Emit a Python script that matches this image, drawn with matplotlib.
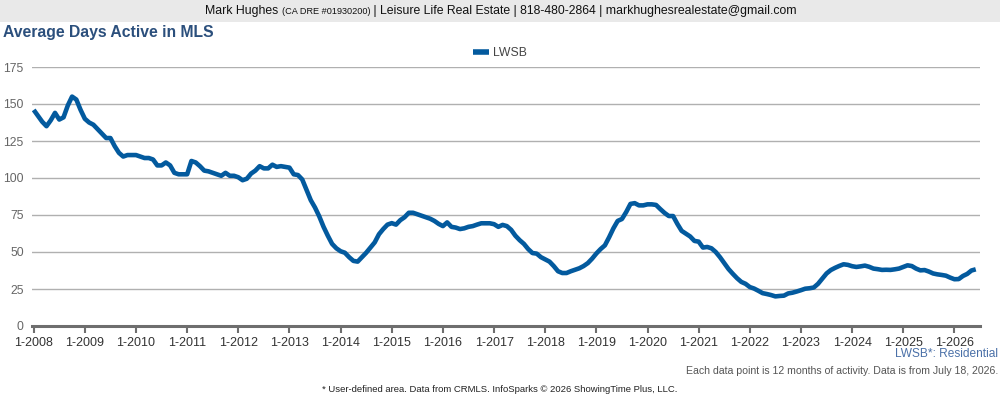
import matplotlib.pyplot as plt
import numpy as np

# Monthly values, Jan 2008 .. Jun 2026
days_active = [
    146, 142, 138, 135, 139, 144, 139.5, 141, 149, 155, 153, 146,
    140, 137.5, 136, 133, 130, 127, 127, 121.5, 117, 114.5, 115.5, 115.5,
    115.5, 114.5, 113.5, 113.5, 112.5, 108.5, 108.5, 110.5, 108.5, 103.5, 102.5, 102.5,
    102.5, 111.5, 110.5, 108, 105, 104.5, 103.5, 102.5, 101.5, 103.5, 101.5, 101.5,
    100.5, 98.5, 99.5, 103, 105, 108, 106.5, 106.5, 109, 107.5, 108, 107.5,
    107, 102.5, 102, 99, 92, 85, 80, 74, 67, 61, 55.5, 52.5,
    50.5, 49.5, 46.5, 44, 43.5, 46.5, 49.5, 53, 56.5, 62, 65.5, 68.5,
    69.5, 68.5, 71.5, 73.5, 76.5, 76.5, 75.5, 74.5, 73.5, 72.5, 71, 69,
    67.5, 70, 67, 66.5, 65.5, 66, 67, 67.5, 68.5, 69.4, 69.4, 69.4,
    68.8, 67, 68.3, 67.5, 65, 61, 58, 55.5, 52, 49.3, 48.9, 46.5,
    45, 43.5, 40.5, 37, 35.8, 35.8, 37, 38, 39, 40.5, 42.5, 45.5,
    49, 52, 54.5, 60, 66, 71, 72.3, 77, 82.5, 83, 81.5, 81.5,
    82.2, 82.2, 81.8, 79, 76.4, 74.3, 74.3, 69, 64.3, 62.4, 60.5, 57.5,
    57, 53, 53.4, 52.5, 50, 46.5, 42.5, 38.5, 35.3, 32.3, 29.8, 28.5,
    26.3, 25.3, 23.8, 22.2, 21.6, 20.9, 20, 20.3, 20.5, 22, 22.5, 23.3,
    24.2, 25.2, 25.5, 26, 28.5, 32, 35.5, 37.8, 39.3, 40.6, 41.7, 41.3,
    40.4, 39.9, 40.3, 40.8, 40, 38.8, 38.4, 37.9, 38, 37.9, 38.3, 38.8,
    39.9, 41, 40.5, 38.8, 37.6, 37.8, 36.8, 35.5, 34.9, 34.5, 34, 32.7,
    31.6, 31.7, 33.8, 35.2, 37.5, 38.3,
]
years = list(range(2008, 2027))
tick_labels = ["1-%d" % y for y in years]
y_ticks = [0, 25, 50, 75, 100, 125, 150, 175]

font = "Liberation Sans"
blue = "#035a9e"

fig = plt.figure(figsize=(10, 4), dpi=100)

# top banner
fig.patches.append(plt.Rectangle((0, 1 - 22 / 400), 1, 22 / 400, transform=fig.transFigure,
                                 facecolor="#e9e9e9", edgecolor="none", zorder=0))
t1 = fig.text(0.205, 1 - 11 / 400, "Mark Hughes ", ha="left", va="center", fontsize=8.8,
              family=font, color="#111111")
fig.canvas.draw()
bb = t1.get_window_extent()
t2 = fig.text(bb.x1 / 1000, 1 - 11.5 / 400, "(CA DRE #01930200)", ha="left", va="center",
              fontsize=6.6, family=font, color="#111111")
fig.canvas.draw()
bb = t2.get_window_extent()
fig.text(bb.x1 / 1000, 1 - 11 / 400,
         " | Leisure Life Real Estate | 818-480-2864 | markhughesrealestate@gmail.com",
         ha="left", va="center", fontsize=8.8, family=font, color="#111111")

fig.text(0.003, 1 - 33 / 400, "Average Days Active in MLS", ha="left", va="center",
         fontsize=11.3, fontweight="bold", family=font, color="#2b4f7c")

ax = fig.add_axes([0.032, 1 - 326 / 400, 0.948, (326 - 67) / 400])
x = np.arange(len(days_active))
ax.plot(x, days_active, color=blue, linewidth=3.3, solid_capstyle="butt", label="LWSB", zorder=3)

ax.set_ylim(0, 175)
ax.set_xlim(-0.4, 222)
ax.set_yticks(y_ticks)
ax.set_xticks([12 * i for i in range(len(years))])
ax.set_xticklabels(tick_labels)
ax.grid(axis="y", color="#b0b0b0", linewidth=1.0)
ax.set_axisbelow(True)
for s in ["top", "right", "left"]:
    ax.spines[s].set_visible(False)
ax.spines["bottom"].set_color("#6e6e6e")
ax.spines["bottom"].set_linewidth(2.2)
ax.tick_params(axis="x", length=5, width=1.5, color="#6e6e6e", pad=3,
               labelsize=9, labelcolor="#333333")
ax.tick_params(axis="y", length=0, pad=6, labelsize=8.8, labelcolor="#666666")
for lab in ax.get_xticklabels() + ax.get_yticklabels():
    lab.set_family(font)

leg = fig.legend(loc="center", bbox_to_anchor=(0.5, 1 - 53 / 400), frameon=False,
                 handlelength=1.3, handletextpad=0.4, prop={"family": font, "size": 8.8})
for t in leg.get_texts():
    t.set_color("#444444")
for h in leg.get_lines():
    h.set_linewidth(4)

fig.text(0.998, 1 - 354 / 400, "LWSB*: Residential", ha="right", va="center", fontsize=8.6,
         family=font, color="#4a70a8")
fig.text(0.998, 1 - 371 / 400,
         "Each data point is 12 months of activity. Data is from July 18, 2026.",
         ha="right", va="center", fontsize=7.6, family=font, color="#555555")
fig.text(0.5, 1 - 390 / 400,
         "* User-defined area. Data from CRMLS. InfoSparks \u00a9 2026 ShowingTime Plus, LLC.",
         ha="center", va="center", fontsize=6.8, family=font, color="#222222")

fig.savefig("out.png", dpi=100)
